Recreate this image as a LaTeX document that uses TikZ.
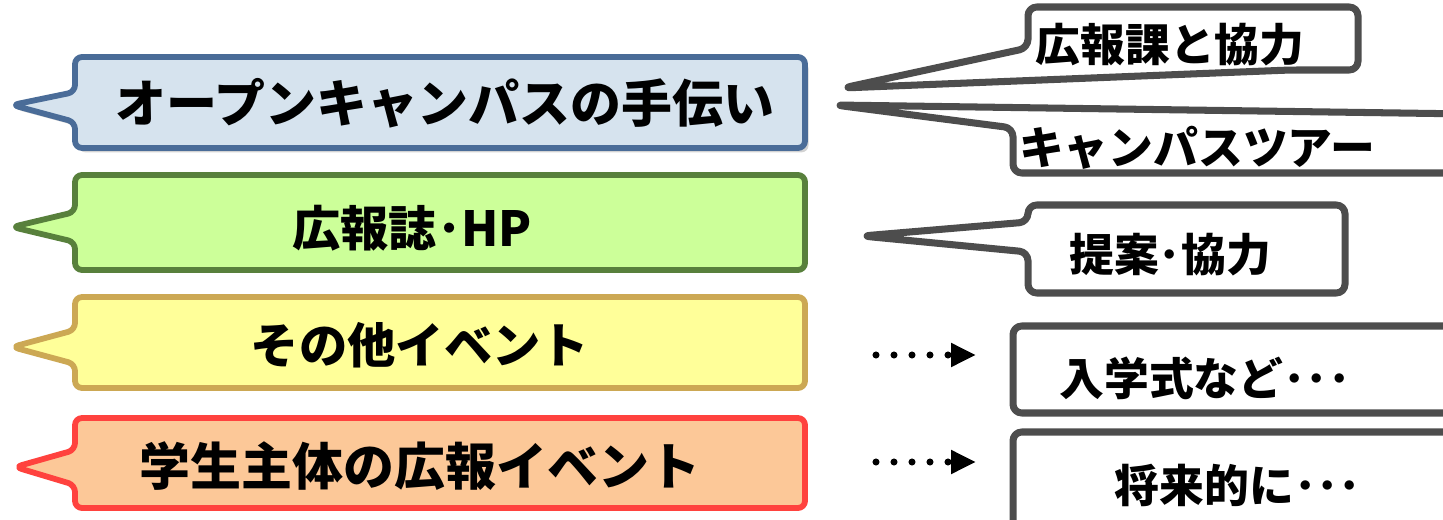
\documentclass[tikz,border=0pt]{standalone}
\usepackage{fontspec}
\newfontfamily\jp{Noto Sans CJK JP}
\usetikzlibrary{arrows.meta,shadows}

\definecolor{blueline}{RGB}{74,108,152}
\definecolor{bluefill}{RGB}{214,227,238}
\definecolor{greenline}{RGB}{88,128,60}
\definecolor{greenfill}{RGB}{204,255,153}
\definecolor{yellowline}{RGB}{204,168,84}
\definecolor{yellowfill}{RGB}{255,255,153}
\definecolor{redline}{RGB}{255,66,62}
\definecolor{redfill}{RGB}{252,200,152}
\definecolor{boxgray}{RGB}{77,77,77}

\begin{document}
\begin{tikzpicture}[
    x=0.02cm, y=-0.02cm,
    bubble/.style={line width=3.3pt, rounded corners=4pt, line join=round},
    tagbox/.style={draw=boxgray, line width=4pt, rounded corners=5pt, line join=round, fill=white},
    bigtext/.style={font=\jp\bfseries\fontsize{29pt}{29pt}\selectfont, inner sep=0pt},
    midtext/.style={font=\jp\bfseries\fontsize{27.5pt}{27.5pt}\selectfont, inner sep=0pt},
    tagtext/.style={font=\jp\bfseries\fontsize{25.5pt}{25.5pt}\selectfont, inner sep=0pt},
    dotarrow/.style={line width=4pt, line cap=round, dash pattern=on 0pt off 0.36cm,
        -{Triangle[length=0.5cm, width=0.45cm]}}
]
    \useasboundingbox (0,0) rectangle (1443,520);

    % Left callouts
    \draw[bubble, draw=blueline, fill=bluefill,
        drop shadow={shadow xshift=2pt, shadow yshift=-2.5pt, opacity=0.35}]
        (75,57) -- (805,57) -- (805,148) -- (75,148) -- (75,122) -- (12,105) -- (75,92) -- cycle;
    \node[bigtext] (open) at (445,103) {オープンキャンパスの手伝い};

    \draw[bubble, draw=greenline, fill=greenfill]
        (75,175) -- (805,175) -- (805,270) -- (75,270) -- (75,242) -- (12,227) -- (75,212) -- cycle;
    \node[midtext] (pr) at (412,228) {広報誌･HP};

    \draw[bubble, draw=yellowline, fill=yellowfill]
        (75,297) -- (805,297) -- (805,388) -- (75,388) -- (75,364) -- (12,347) -- (75,330) -- cycle;
    \node[midtext] (other) at (420,345) {その他イベント};

    \draw[bubble, draw=redline, fill=redfill]
        (75,418) -- (805,418) -- (805,508) -- (75,508) -- (75,485) -- (15,467) -- (75,450) -- cycle;
    \node[bigtext] (student) at (420,466) {学生主体の広報イベント};

    % Right callouts
    \draw[tagbox] (1028,7) -- (1358,7) -- (1358,70) -- (1290,70) -- (843,88) -- (1028,48) -- cycle;
    \node[tagtext] (office) at (1170,45) {広報課と協力};

    \draw[tagbox] (1470,114) -- (835,105) -- (1013,128) -- (1013,173) -- (1470,173);
    \node[tagtext] (tour) at (1197,148) {キャンパスツアー};

    \draw[tagbox] (1028,205) -- (1345,205) -- (1345,293) -- (1028,293) -- (1028,252) -- (862,236) -- (1028,222) -- cycle;
    \node[tagtext] (idea) at (1170,255) {提案･協力};

    \draw[tagbox] (1470,326) -- (1013,326) -- (1013,413) -- (1470,413);
    \node[tagtext] (ceremony) at (1205,378) {入学式など･･･};

    \draw[tagbox] (1470,432) -- (1013,432) -- (1013,540);
    \node[tagtext] (future) at (1238,485) {将来的に･･･};

    % Dotted arrows
    \coordinate (a1) at (876,355);
    \coordinate (b1) at (976,355);
    \coordinate (a2) at (876,462);
    \coordinate (b2) at (976,462);
    \draw[dotarrow] (a1) -- (b1);
    \draw[dotarrow] (a2) -- (b2);
\end{tikzpicture}
\end{document}
